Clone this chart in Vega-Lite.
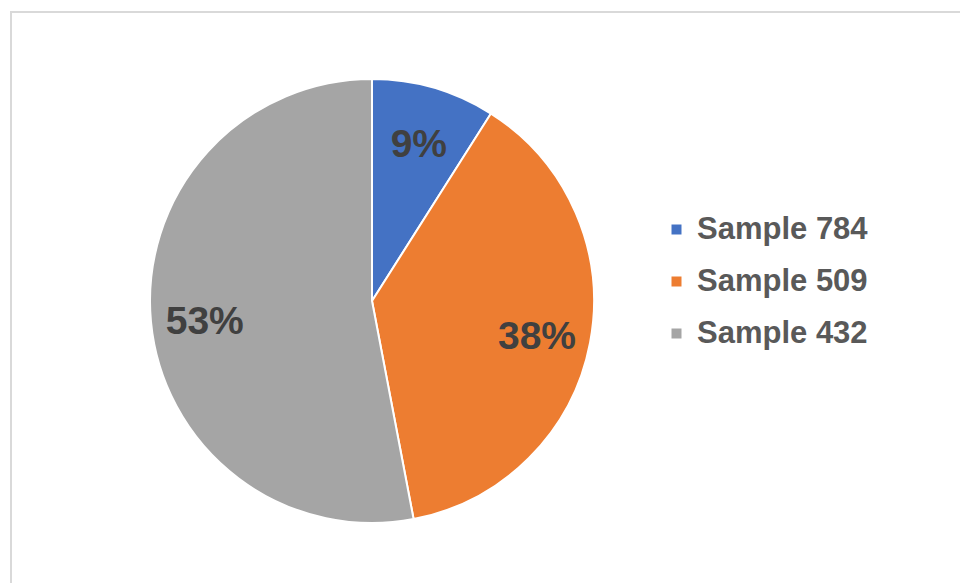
{
  "$schema": "https://vega.github.io/schema/vega-lite/v6.json",
  "width": 960,
  "height": 583,
  "autosize": {"type": "fit", "contains": "padding"},
  "padding": {"left": 11, "top": 12, "right": -4, "bottom": -4},
  "background": "white",
  "config": {
    "view": {"stroke": "#d9d9d9", "strokeWidth": 2},
    "font": "Liberation Sans"
  },
  "data": {
    "values": [
      {"sample": "Sample 784", "share": 0.09, "rank": 1},
      {"sample": "Sample 509", "share": 0.38, "rank": 2},
      {"sample": "Sample 432", "share": 0.53, "rank": 3}
    ]
  },
  "encoding": {
    "theta": {"field": "share", "type": "quantitative", "stack": true},
    "order": {"field": "rank", "type": "quantitative", "sort": "ascending"},
    "x": {"value": 361},
    "y": {"value": 289}
  },
  "layer": [
    {
      "mark": {"type": "arc", "outerRadius": 222, "stroke": "white", "strokeWidth": 2},
      "encoding": {
        "color": {
          "field": "sample",
          "type": "nominal",
          "scale": {"domain": ["Sample 784", "Sample 509", "Sample 432"], "range": ["#4472C4", "#ED7D31", "#A5A5A5"]},
          "legend": {
            "title": null,
            "orient": "none",
            "legendX": 650,
            "legendY": 202,
            "symbolType": "square",
            "symbolSize": 100,
            "symbolStrokeWidth": 0,
            "labelFontSize": 31,
            "labelFontWeight": "bold",
            "labelColor": "#595959",
            "labelOffset": 5,
            "rowPadding": 20,
            "labelLimit": 400
          }
        }
      }
    },
    {
      "mark": {"type": "text", "radius": 168, "fontSize": 39, "fontWeight": "bold", "fill": "#404040", "align": "center", "baseline": "middle", "dy": 5},
      "encoding": {
        "text": {"field": "share", "type": "quantitative", "format": ".0%"}
      }
    }
  ]
}
